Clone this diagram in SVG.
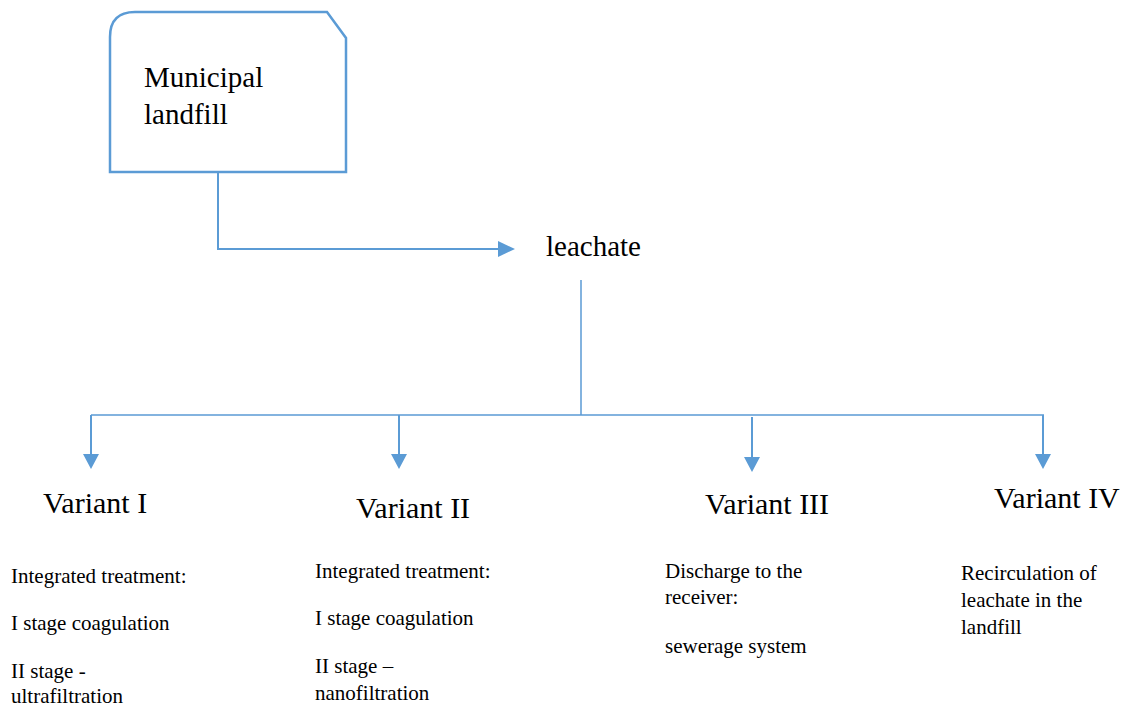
<svg xmlns="http://www.w3.org/2000/svg" width="1123" height="706" viewBox="0 0 1123 706">
<defs>
<style>
.big{font-family:"Liberation Serif","Times New Roman",serif;font-size:29px;fill:#000}
.var{font-family:"Liberation Serif","Times New Roman",serif;font-size:30px;fill:#000}
.small{font-family:"Liberation Serif","Times New Roman",serif;font-size:21px;fill:#000}
.ln{stroke:#5B9BD5;stroke-width:2;fill:none}
.ln1{stroke:#5B9BD5;stroke-width:1.5;fill:none}
.ah{fill:#5B9BD5}
</style>
</defs>
<rect width="1123" height="706" fill="#fff"/>
<g id="node-landfill">
<path d="M135,12 H327 L346,38 V172 H110 V37 Q110,12 135,12 Z" fill="#fff" stroke="#5B9BD5" stroke-width="2.5"/>
<text class="big" x="144" y="87">Municipal</text>
<text class="big" x="144" y="124">landfill</text>
</g>
<g id="node-leachate">
<text class="big" x="546" y="256">leachate</text>
</g>
<g id="node-variant1">
<text class="var" x="43" y="513">Variant I</text>
<text class="small" x="11" y="583">Integrated treatment:</text>
<text class="small" x="11" y="630">I stage coagulation</text>
<text class="small" x="11" y="678">II stage -</text>
<text class="small" x="11" y="703">ultrafiltration</text>
</g>
<g id="node-variant2">
<text class="var" x="356" y="518">Variant II</text>
<text class="small" x="315" y="578">Integrated treatment:</text>
<text class="small" x="315" y="625">I stage coagulation</text>
<text class="small" x="315" y="673">II stage –</text>
<text class="small" x="315" y="700">nanofiltration</text>
</g>
<g id="node-variant3">
<text class="var" x="705" y="514">Variant III</text>
<text class="small" x="665" y="578">Discharge to the</text>
<text class="small" x="665" y="604">receiver:</text>
<text class="small" x="665" y="653">sewerage system</text>
</g>
<g id="node-variant4">
<text class="var" x="994" y="508">Variant IV</text>
<text class="small" x="961" y="580">Recirculation of</text>
<text class="small" x="961" y="607">leachate in the</text>
<text class="small" x="961" y="634">landfill</text>
</g>
<g id="connectors">
<path class="ln" d="M218,172 V249 H500"/>
<polygon class="ah" points="498,241 515,249 498,257"/>
<path class="ln1" d="M581,280 V415 M91,415 H1044"/>
<path class="ln" d="M91,415 V456"/>
<polygon class="ah" points="83,454 99,454 91,469"/>
<path class="ln" d="M399,415 V456"/>
<polygon class="ah" points="391,454 407,454 399,469"/>
<path class="ln" d="M752,417 V459"/>
<polygon class="ah" points="744,457 760,457 752,472"/>
<path class="ln" d="M1043,415 V456"/>
<polygon class="ah" points="1035,454 1051,454 1043,469"/>
</g>
</svg>
